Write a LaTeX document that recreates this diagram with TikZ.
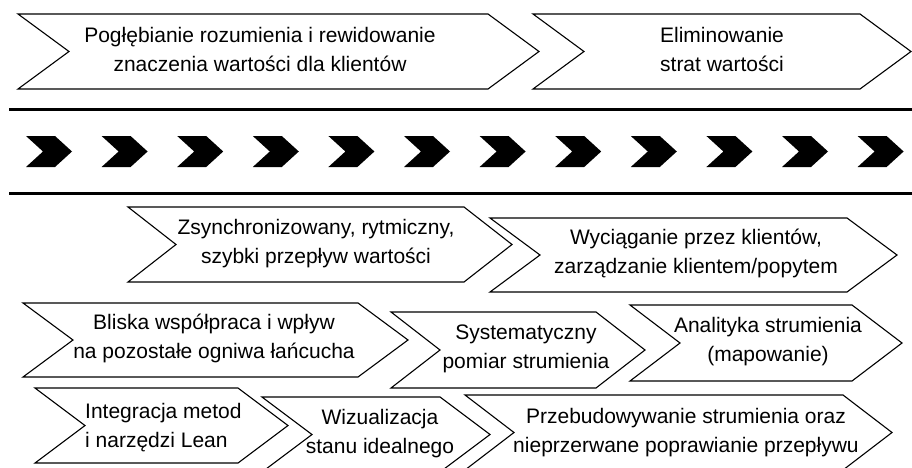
\documentclass[tikz,border=0pt]{standalone}
\usepackage{fontspec}
\setmainfont{Liberation Sans}
\begin{document}
% outlined chevron band: left x, tip x, top y, bottom y, slant depth
\newcommand\chevronband[5]{%
  \draw[band] (#1,#3) -- ({#2-#5},#3) -- (#2,{(#3+#4)/2}) -- ({#2-#5},#4)
    -- (#1,#4) -- ({#1+#5},{(#3+#4)/2}) -- cycle;}
\begin{tikzpicture}[x=1pt,y=-1pt,
  band/.style={draw=black,fill=white,line width=1.1pt,line join=miter},
  lbl/.style={font=\fontsize{21}{29}\selectfont,align=center,anchor=base,inner sep=0pt},
  rule/.style={line width=3pt},
  solidchev/.style={fill=black}]
\useasboundingbox (0,0) rectangle (912,468);
\clip (0,0) rectangle (912,468);

% top pair (labels anchored on the baseline of their last line)
\chevronband{18}{539}{14}{89}{51}
\chevronband{533}{911}{14}{89}{51}
\node[lbl] (deepen) at (260,72) {Pogłębianie rozumienia i rewidowanie\\znaczenia wartości dla klientów};
\node[lbl] (waste) at (722,72) {Eliminowanie\\strat wartości};

% separating rules with the solid arrow strip
\draw[rule] (9,110) -- (912,110);
\draw[rule] (9,193) -- (912,193);
\foreach \i in {0,...,11}{
  \fill[solidchev] ({26+75.6*\i},136) -- ({55+75.6*\i},136) -- ({72+75.6*\i},151.5)
    -- ({55+75.6*\i},167) -- ({26+75.6*\i},167) -- ({43+75.6*\i},151.5) -- cycle;
}

% second row
\chevronband{128}{512}{207}{282}{48}
\chevronband{490}{897}{218}{292}{50}
\node[lbl] (sync) at (316,263) {Zsynchronizowany, rytmiczny,\\szybki przepływ wartości};
\node[lbl] (pull) at (696,273) {Wyciąganie przez klientów,\\zarządzanie klientem/popytem};

% third row
\chevronband{23}{408}{303}{377}{50}
\chevronband{391}{645}{312}{388}{49}
\chevronband{630}{902}{305}{381}{50}
\node[lbl] (coop) at (214,358) {Bliska współpraca i wpływ\\na pozostałe ogniwa łańcucha};
\node[lbl] (measure) at (526,368) {Systematyczny\\pomiar strumienia};
\node[lbl] (analytics) at (768,361) {Analityka strumienia\\(mapowanie)};

% fourth row
\chevronband{35}{288}{388}{463}{50}
\chevronband{262}{490}{397}{472}{50}
\chevronband{465}{892}{395}{470}{49}
\node[lbl,align=left,anchor=base west] (lean) at (85,447) {Integracja metod\\i narzędzi Lean};
\node[lbl] (ideal) at (380,453) {Wizualizacja\\stanu idealnego};
\node[lbl] (rebuild) at (686,452) {Przebudowywanie strumienia oraz\\nieprzerwane poprawianie przepływu};
\end{tikzpicture}
\end{document}
